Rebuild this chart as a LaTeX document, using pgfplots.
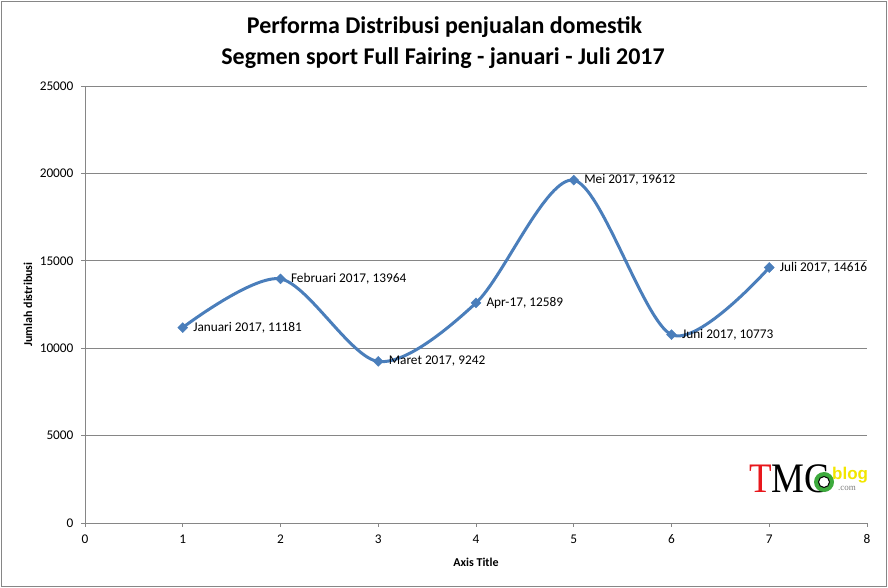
\documentclass[border=0pt]{standalone}
\usepackage{pgfplots}
\pgfplotsset{compat=1.18}
\usepackage{fontspec}
\setmainfont{Carlito}
\newfontfamily\logofont{Liberation Serif}
\newfontfamily\logosans{Liberation Sans}
\definecolor{lineblue}{HTML}{4A7EBB}
\definecolor{gridgray}{HTML}{868686}
\definecolor{logored}{HTML}{E8171C}
\definecolor{logoyellow}{HTML}{F2E600}
\definecolor{logogreen}{HTML}{3DAA3D}
\begin{document}
\begin{tikzpicture}[x=1pt,y=1pt]
\useasboundingbox (0,0) rectangle (888,588);
\draw[gridgray, line width=1pt] (1.5,1.5) rectangle (886.5,586.5);
\node[anchor=base, inner sep=0, font=\fontsize{24}{29}\selectfont\bfseries] at (444.5,554) {Performa Distribusi penjualan domestik};
\node[anchor=base, inner sep=0, font=\fontsize{24}{29}\selectfont\bfseries] at (443,523) {Segmen sport Full Fairing - januari - Juli 2017};
\begin{axis}[
  at={(85pt,65pt)}, anchor=south west,
  scale only axis, width=782pt, height=437pt,
  xmin=0, xmax=8, ymin=0, ymax=25000,
  xtick={0,1,...,8}, ytick={0,5000,...,25000},
  axis lines*=left,
  axis line style={gridgray, line width=0.8pt},
  ymajorgrids, grid style={gridgray, line width=0.8pt},
  tick align=outside, major tick length=4pt,
  tick style={gridgray, line width=0.8pt},
  scaled ticks=false,
  /pgf/number format/assume math mode=true,
  /pgf/number format/1000 sep={},
  tick label style={font=\fontsize{13.3}{15}\selectfont, text=black},
  yticklabel style={xshift=-4pt},
  xticklabel style={yshift=-4pt},
  xlabel={Axis Title}, ylabel={Jumlah distribusi},
  label style={font=\fontsize{12}{14}\selectfont\bfseries},
  xlabel style={at={(axis description cs:0.5,-0.0892)}, anchor=center},
  ylabel style={at={(axis description cs:-0.0729,0.5)}, anchor=center},
  nodes near coords align=horizontal,
  every node near coord/.append style={font=\fontsize{13.3}{15}\selectfont, text=black, anchor=west, xshift=7pt},
  clip=false,
]
\addplot[lineblue, line width=3pt, smooth, tension=0.5,
  mark=diamond*, mark size=5pt, mark options={fill=lineblue, draw=lineblue, line width=0.4pt, xscale=1.33},
  nodes near coords, point meta=explicit symbolic]
  table[x=x, y=y, meta=label, col sep=semicolon, row sep=\\] {
x;y;label\\
1;11181;Januari 2017, 11181\\
2;13964;Februari 2017, 13964\\
3;9242;Maret 2017, 9242\\
4;12589;Apr-17, 12589\\
5;19612;Mei 2017, 19612\\
6;10773;Juni 2017, 10773\\
7;14616;Juli 2017, 14616\\
};
\end{axis}
% logo
\node[anchor=base west, inner sep=0, font=\fontsize{42}{42}\selectfont\logofont, xscale=0.88] at (749,95) {\textcolor{logored}{T}MC};
\fill[logogreen] (824,106) circle (10);
\fill[white] (824,106) circle (5.5);
\draw[black, line width=1pt] (824,106) circle (5.5);
\node[anchor=base west, inner sep=0, font=\fontsize{17}{17}\selectfont\logosans\bfseries, text=logoyellow, draw=none] at (832,108) {blog};
\node[anchor=base west, inner sep=0, font=\fontsize{9}{9}\selectfont\logofont, text=gray] at (838,97) {.com};
\end{tikzpicture}
\end{document}
